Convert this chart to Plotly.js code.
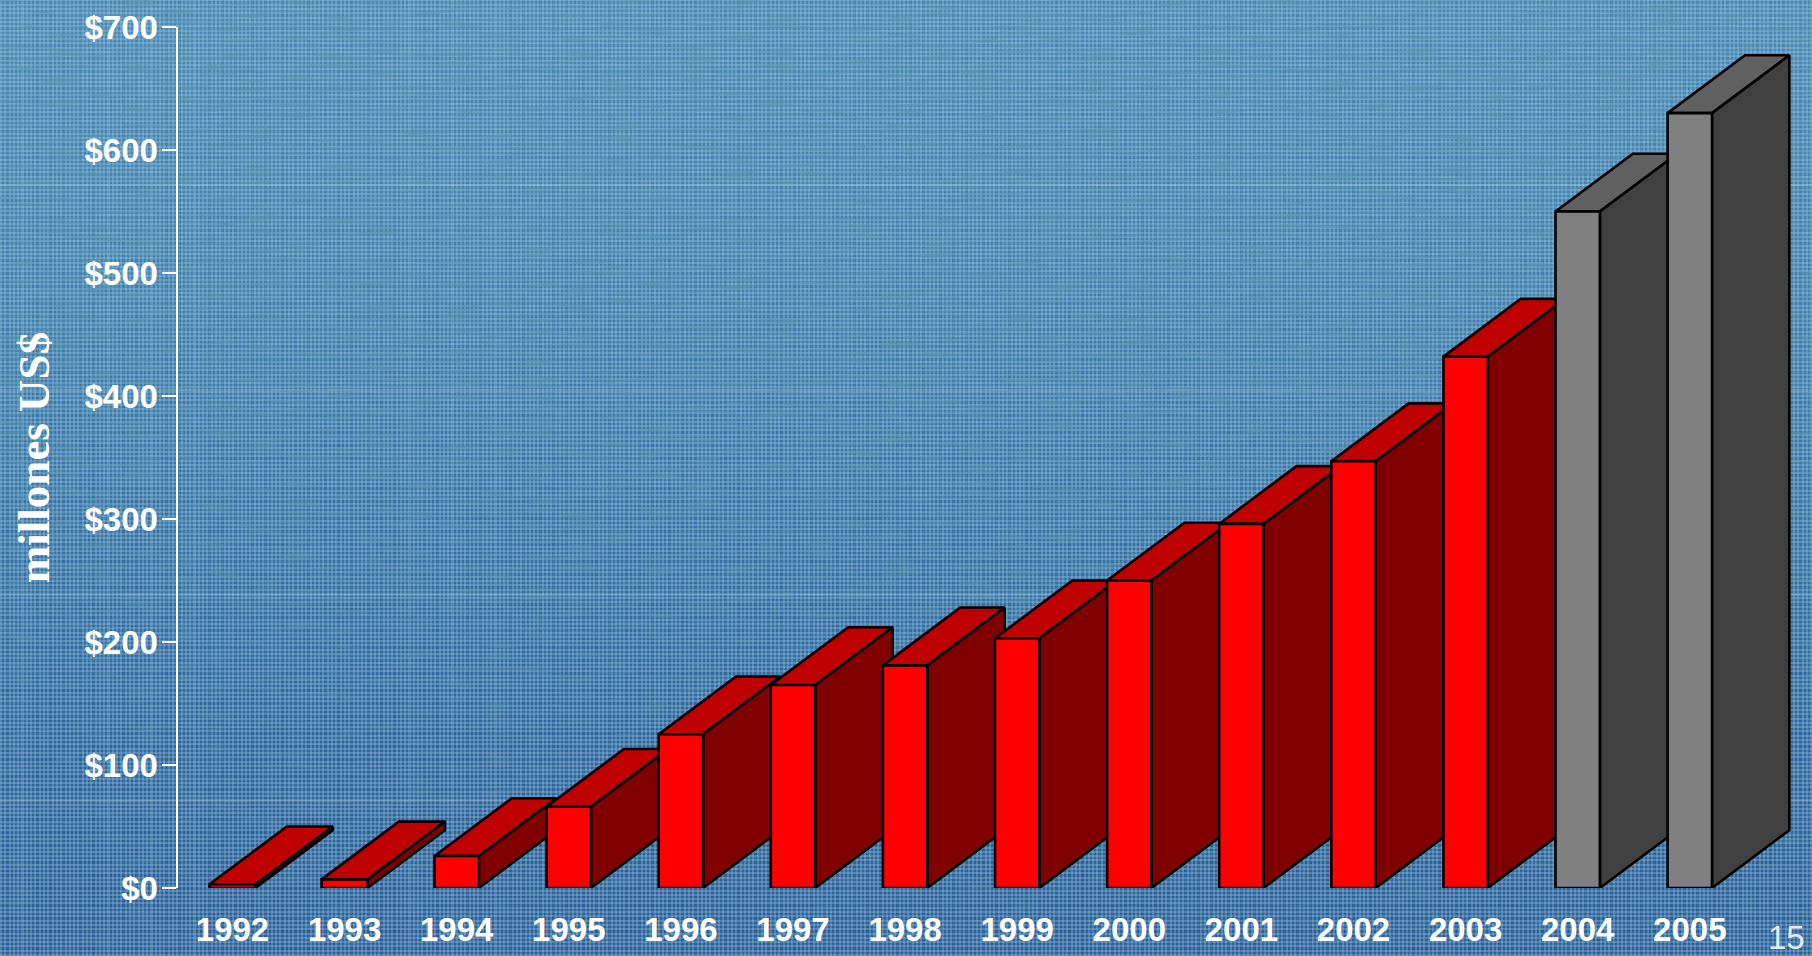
<!DOCTYPE html>
<html>
<head>
<meta charset="utf-8">
<script src="https://cdn.plot.ly/plotly-3.0.1.min.js"></script>
<style>
html,body{margin:0;padding:0;width:1812px;height:956px;overflow:hidden}
#bg{position:absolute;left:0;top:0;width:1812px;height:956px;
 background-image:
  repeating-linear-gradient(0deg,rgba(190,225,250,.24) 0 2px,rgba(0,0,0,0) 2px 4.3px),
  repeating-linear-gradient(90deg,rgba(190,225,250,.24) 0 2px,rgba(0,0,0,0) 2px 4.3px),
  linear-gradient(180deg,#4a88b2 0%,#4280ab 30%,#3873a3 55%,#2f669a 78%,#2c5f95 100%);}
#bands{position:absolute;left:0;top:0;width:1812px;height:956px;
 background-image:
  linear-gradient(180deg,rgba(0,0,0,0) 0 184px,rgba(255,255,255,.14) 184px 186px,rgba(0,0,0,0) 186px 389px,rgba(255,255,255,.14) 389px 391px,rgba(0,0,0,0) 391px 594px,rgba(255,255,255,.14) 594px 596px,rgba(0,0,0,0) 596px 800px,rgba(255,255,255,.14) 800px 802px,rgba(0,0,0,0) 802px);}
#noise{position:absolute;left:0;top:0;width:1812px;height:956px;opacity:.7;
 -webkit-mask-image:linear-gradient(180deg,#000 0%,#000 40%,rgba(0,0,0,.3) 100%);
 mask-image:linear-gradient(180deg,#000 0%,#000 40%,rgba(0,0,0,.3) 100%);}
#plot{position:absolute;left:0;top:0;width:1812px;height:956px}
</style>
</head>
<body>
<div id="bg"></div>
<svg id="noise" xmlns="http://www.w3.org/2000/svg" width="1812" height="956">
 <filter id="streak" x="0" y="0" width="100%" height="100%">
  <feTurbulence type="fractalNoise" baseFrequency="0.025 0.28" numOctaves="2" seed="4"/>
  <feColorMatrix type="matrix" values="0 0 0 0 0.10  0 0 0 0 0.30  0 0 0 0 0.42  2.6 0 0 0 -1.25"/>
 </filter>
 <rect width="1812" height="956" filter="url(#streak)"/>
</svg>
<div id="bands"></div>
<div id="plot"></div>
<script>
const years = [1992,1993,1994,1995,1996,1997,1998,1999,2000,2001,2002,2003,2004,2005];
const values = [3,7,26,66,125,165,181,203,250,296,347,432,550,630];
const tickValues = [0,100,200,300,400,500,600,700];
const tickLabels = ['$0','$100','$200','$300','$400','$500','$600','$700'];
const grayFrom = 2004;

const halfWidth = y => y < 1994 ? 0.205 : 0.198;
const depthX = 0.69;
const depthY = 47;
const red = {front:'#ff0000', top:'#bf0000', side:'#800000'};
const gray = {front:'#808080', top:'#606060', side:'#404040'};

function face(xs, ys, color){
  return {type:'scatter', mode:'lines', x:xs, y:ys, fill:'toself', fillcolor:color,
    line:{color:'#000000', width:2.6}, hoverinfo:'skip', showlegend:false};
}
const traces = [];
years.forEach((yr,i)=>{
  const v = values[i], w = halfWidth(yr), c = yr >= grayFrom ? gray : red;
  const l = yr-w, r = yr+w;
  traces.push(face([l,r,r+depthX,l+depthX,l],[v,v,v+depthY,v+depthY,v],c.top));
  traces.push(face([r,r+depthX,r+depthX,r,r],[0,depthY,v+depthY,v,0],c.side));
  traces.push(face([l,r,r,l,l],[0,0,v,v,0],c.front));
});

const layout = {
  width:1812, height:956,
  paper_bgcolor:'rgba(0,0,0,0)', plot_bgcolor:'rgba(0,0,0,0)',
  margin:{l:178,r:0,t:27,b:67.5,autoexpand:false},
  showlegend:false,
  xaxis:{range:[1991.514,2006.09], tickmode:'array', tickvals:years, ticktext:years.map(String),
    showgrid:false, zeroline:false, showline:false, ticks:'outside', ticklen:12, tickcolor:'rgba(0,0,0,0)',
    tickfont:{family:'"Liberation Sans"', size:33, color:'#ffffff', weight:'bold'}},
  yaxis:{range:[0,700], tickmode:'array', tickvals:tickValues, ticktext:tickLabels,
    showgrid:false, zeroline:false, showline:true, linecolor:'#ffffff', linewidth:2.5,
    ticks:'outside', ticklen:14, tickwidth:2.5, tickcolor:'#ffffff', ticklabelstandoff:-3,
    tickfont:{family:'"Liberation Sans"', size:33, color:'#ffffff', weight:'bold'},
    title:{text:'millones US$', standoff:21,
      font:{family:'"Liberation Serif"', size:45, color:'#ffffff', weight:'bold'}}},
  annotations:[{text:'15', xref:'paper', yref:'paper', x:1, y:-0.062, xanchor:'right', yanchor:'middle',
    xshift:-5, yshift:4, showarrow:false, font:{family:'"Liberation Sans"', size:33, color:'#e4ecf4'}}]
};
Plotly.newPlot('plot', traces, layout, {staticPlot:true, displayModeBar:false});
</script>
</body>
</html>
